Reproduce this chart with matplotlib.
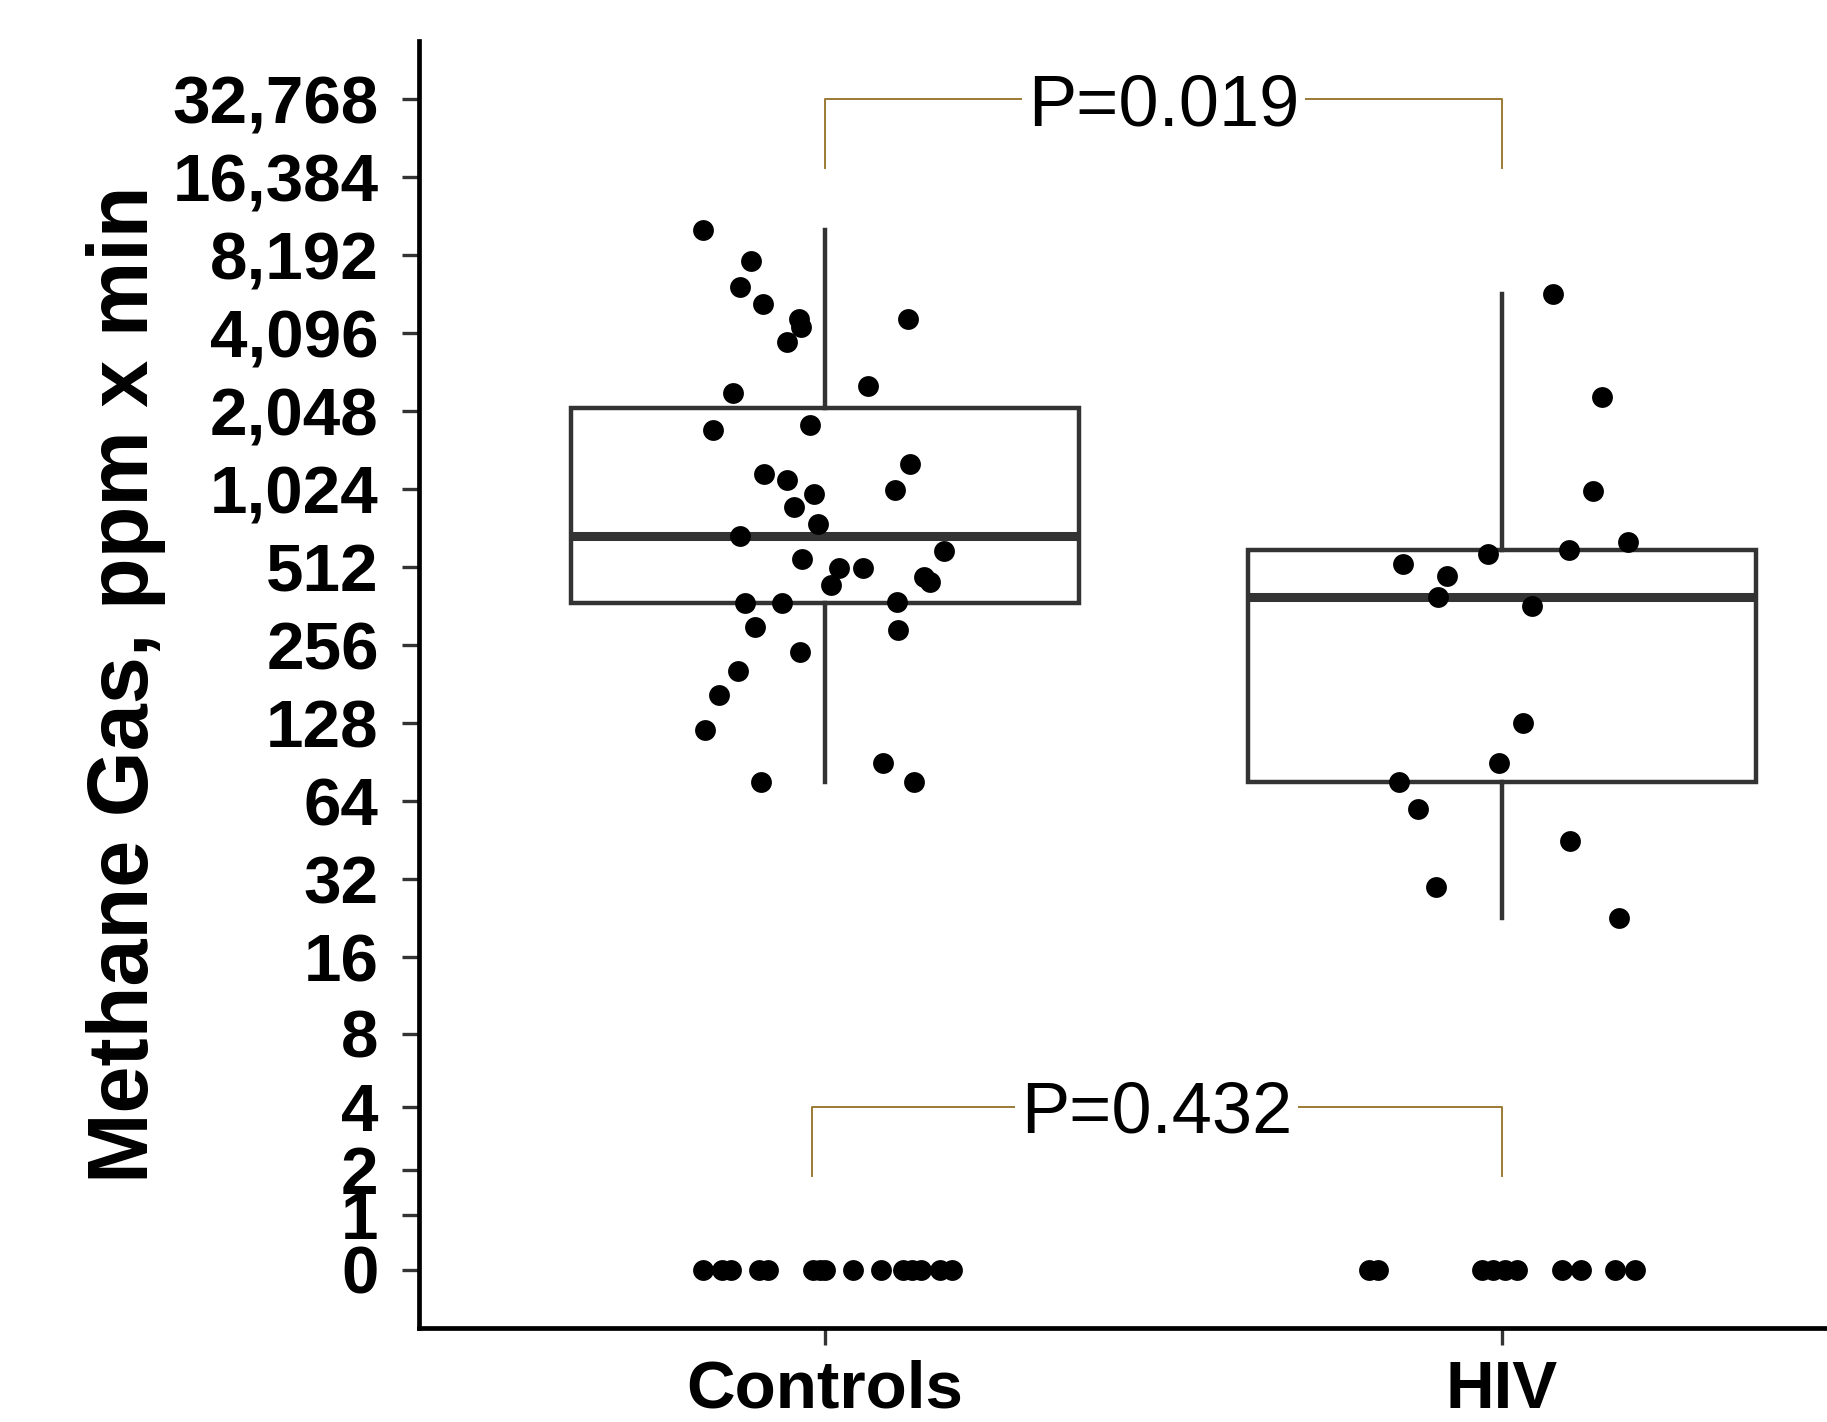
import matplotlib
matplotlib.use("Agg")
import matplotlib.pyplot as plt
import numpy as np
from matplotlib.ticker import NullLocator

# ---- data ----
groups = ["Controls", "HIV"]

# non-zero methane values (ppm x min) and their horizontal jitter
controls_values = [10300, 7800, 6170, 5330, 4670, 4330, 3800, 4640, 2420, 2560,
                   1730, 1820, 1280, 1180, 1110, 980, 1020, 880, 755, 676,
                   592, 553, 508, 508, 471, 452, 440, 372, 372, 377,
                   302, 294, 242, 204, 165, 121, 90, 76, 76]
controls_jitter = [-0.180, -0.110, -0.125, -0.092, -0.039, -0.035, -0.056, 0.122, -0.136, 0.063,
                   -0.165, -0.023, 0.126, -0.090, -0.056, -0.016, 0.103, -0.046, -0.010, -0.125,
                   0.176, -0.034, 0.020, 0.056, 0.146, 0.155, 0.009, -0.119, -0.063, 0.106,
                   -0.103, 0.108, -0.037, -0.129, -0.157, -0.178, 0.085, -0.094, 0.131]

hiv_values = [5830, 2320, 1010, 644, 596, 576, 530, 474, 393, 362,
              128, 90, 76, 60, 45, 30, 22.6]
hiv_jitter = [0.075, 0.148, 0.134, 0.186, 0.099, -0.021, -0.147, -0.081, -0.095, 0.044,
              0.031, -0.005, -0.152, -0.124, 0.101, -0.097, 0.173]

# subjects with zero methane
controls_zero_jitter = [-0.181, -0.152, -0.139, -0.097, -0.084, -0.018, -0.008, 0.000,
                        0.041, 0.083, 0.115, 0.128, 0.141, 0.170, 0.187]
hiv_zero_jitter = [-0.196, -0.183, -0.030, -0.013, 0.004, 0.022, 0.088, 0.116, 0.167, 0.196]

yticks = [0, 1, 2, 4, 8, 16, 32, 64, 128, 256, 512, 1024, 2048, 4096, 8192, 16384, 32768]
ytick_labels = ["{:,}".format(t) for t in yticks]

p_nonzero = "P=0.019"
p_zero = "P=0.432"

# ---- style ----
plt.rcParams['font.family'] = ['Liberation Sans', 'DejaVu Sans']
grey = '#333333'
bracket_col = '#9c7a36'

fig = plt.figure(figsize=(18.27, 14.22), dpi=100)
ax = fig.add_axes([0.2293, 0.0661, 0.8152, 0.9051])

a0 = 2.0
ax.set_yscale('asinh', linear_width=a0)

# boxplots of the non-zero values
ax.boxplot([controls_values, hiv_values], positions=[1, 2], widths=0.75,
           whis=(0, 100), showfliers=False, showcaps=False, patch_artist=True,
           boxprops=dict(facecolor='white', edgecolor=grey, linewidth=3.2),
           whiskerprops=dict(color=grey, linewidth=3.2),
           medianprops=dict(color=grey, linewidth=6.5, solid_capstyle='butt'),
           zorder=2)

# jittered points
for pos, vals, jit in [(1, controls_values, controls_jitter), (2, hiv_values, hiv_jitter)]:
    ax.scatter(pos + np.array(jit), vals, s=225, color='black', linewidths=0, zorder=3)
for pos, jit in [(1, controls_zero_jitter), (2, hiv_zero_jitter)]:
    ax.scatter(pos + np.array(jit), np.zeros(len(jit)), s=225, color='black', linewidths=0, zorder=3)

# significance brackets
def bracket(x1, x2, y, ytip, label):
    ax.plot([x1, x1, x2, x2], [ytip, y, y, ytip], color=bracket_col, linewidth=1.4, zorder=4)
    ax.annotate(label, xy=((x1 + x2) / 2, y), xytext=(0, -18.6), textcoords='offset points',
                ha='center', va='baseline', fontsize=52, color='black', zorder=5,
                bbox=dict(facecolor='white', edgecolor='none', pad=4))

bracket(1.0, 2.0, 32768, 17800, p_nonzero)
bracket(0.98, 2.0, 4, 1.85, p_zero)

# axes
ax.set_xlim(0.4, 2.6)
lo, hi = a0 * np.arcsinh(0 / a0), a0 * np.arcsinh(yticks[-1] / a0)
pad = 0.05 * (hi - lo)
ax.set_ylim(a0 * np.sinh((lo - pad) / a0), a0 * np.sinh((hi + pad) / a0))

ax.set_yticks(yticks)
ax.set_yticklabels(ytick_labels)
ax.yaxis.set_minor_locator(NullLocator())
ax.set_xticks([1, 2])
ax.set_xticklabels(groups)

for lab in ax.get_yticklabels() + ax.get_xticklabels():
    lab.set_fontweight('bold')
    lab.set_fontsize(48.5)
ax.tick_params(axis='y', direction='out', length=12, width=2.4, color=grey, pad=17)
ax.tick_params(axis='x', direction='out', length=12, width=2.4, color=grey, pad=11)

for side in ['top', 'right']:
    ax.spines[side].set_visible(False)
for side in ['left', 'bottom']:
    ax.spines[side].set_linewidth(3.4)
    ax.spines[side].set_color('black')

ax.set_ylabel("Methane Gas, ppm x min", fontsize=61, fontweight='bold')
ax.yaxis.set_label_coords(-0.197, 0.5)
ax.yaxis.label.set_verticalalignment('center')

fig.savefig("out.png", dpi=100)
